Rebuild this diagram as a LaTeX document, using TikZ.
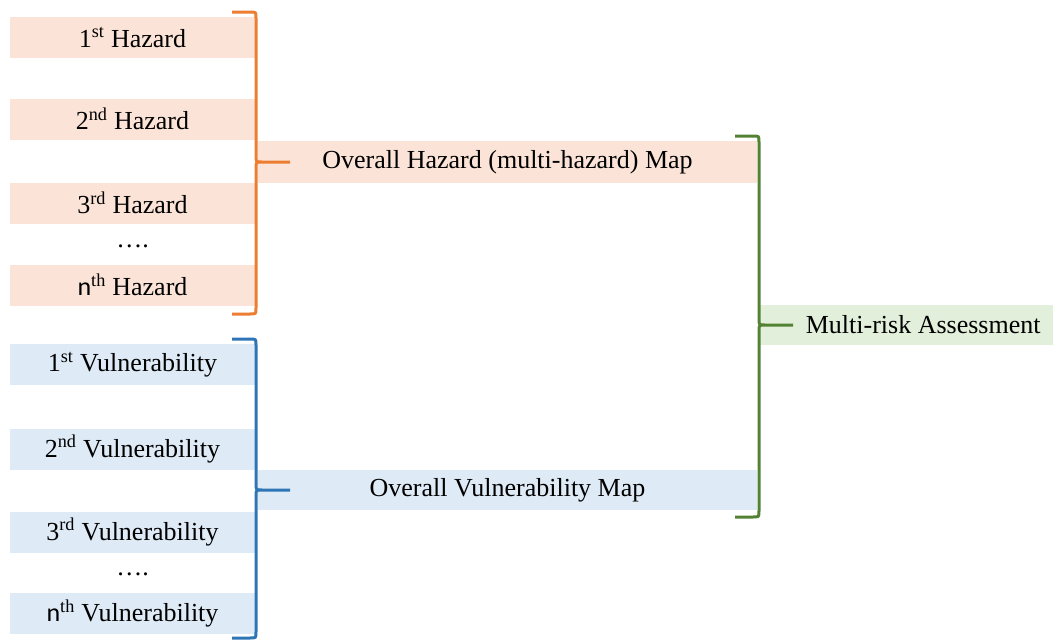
\documentclass[tikz,border=0pt]{standalone}
\usepackage{fontspec}
\setmainfont{Liberation Serif}
\newfontfamily\sansn{Carlito}
\definecolor{pinkfill}{HTML}{FBE4D7}
\definecolor{bluefill}{HTML}{DEEAF6}
\definecolor{greenfill}{HTML}{E2EFDA}
\definecolor{orangeline}{HTML}{ED7D31}
\definecolor{blueline}{HTML}{2E75B6}
\definecolor{greenline}{HTML}{548235}
\begin{document}
\begin{tikzpicture}[x=1pt,y=-1pt,
  lbl/.style={inner sep=0pt, font=\fontsize{26}{30}\selectfont},
  box/.style={lbl, minimum width=246pt, minimum height=41pt},
  hz/.style={box, fill=pinkfill},
  vu/.style={box, fill=bluefill},
  wide/.style={lbl, minimum width=499pt, minimum height=42pt},
  brace/.style={line width=3pt}]
\useasboundingbox (0,0) rectangle (1053,640);
% hazard boxes
\node[hz] (h1) at (132.5,37.5) {1\textsuperscript{st} Hazard};
\node[hz] (h2) at (132.5,119) {2\textsuperscript{nd} Hazard};
\node[hz] (h3) at (132.5,203) {3\textsuperscript{rd} Hazard};
\node[lbl] (hd) at (132.5,246) {\ldots.};
\node[hz] (h4) at (132.5,285) {{\sansn n}\textsuperscript{th} Hazard};
\node[wide, fill=pinkfill] (oh) at (507.5,162) {Overall Hazard (multi-hazard) Map};
% vulnerability boxes
\node[vu] (v1) at (132.5,364.5) {1\textsuperscript{st} Vulnerability};
\node[vu] (v2) at (132.5,449) {2\textsuperscript{nd} Vulnerability};
\node[vu] (v3) at (132.5,532) {3\textsuperscript{rd} Vulnerability};
\node[lbl] (vd) at (132.5,574) {\ldots.};
\node[vu] (v4) at (132.5,613) {{\sansn n}\textsuperscript{th} Vulnerability};
\node[wide, fill=bluefill, minimum height=40pt] (ov) at (507.5,490) {Overall Vulnerability Map};
% multi-risk
\node[inner sep=0pt, fill=greenfill, anchor=west, minimum width=294pt, minimum height=40pt,
  label={[lbl, xshift=17pt]center:Multi-risk Assessment}] (mr) at (759,325) {};
% brace tips
\coordinate (ht) at (290,162);
\coordinate (vt) at (290,490);
\coordinate (mt) at (793,325);
% braces
\draw[brace, orangeline] (232,12) -- (250,12) .. controls (256,12) .. (256,18) -- (256,156)
  .. controls (256,162) .. (262,162) -- (ht)
  (262,162) .. controls (256,162) .. (256,168) -- (256,308)
  .. controls (256,314) .. (250,314) -- (232,314);
\draw[brace, blueline] (232,339) -- (250,339) .. controls (256,339) .. (256,345) -- (256,484)
  .. controls (256,490) .. (262,490) -- (vt)
  (262,490) .. controls (256,490) .. (256,496) -- (256,632)
  .. controls (256,638) .. (250,638) -- (232,638);
\draw[brace, greenline] (735,136) -- (753,136) .. controls (759,136) .. (759,142) -- (759,319)
  .. controls (759,325) .. (765,325) -- (mt)
  (765,325) .. controls (759,325) .. (759,331) -- (759,511)
  .. controls (759,517) .. (753,517) -- (735,517);
\end{tikzpicture}
\end{document}
